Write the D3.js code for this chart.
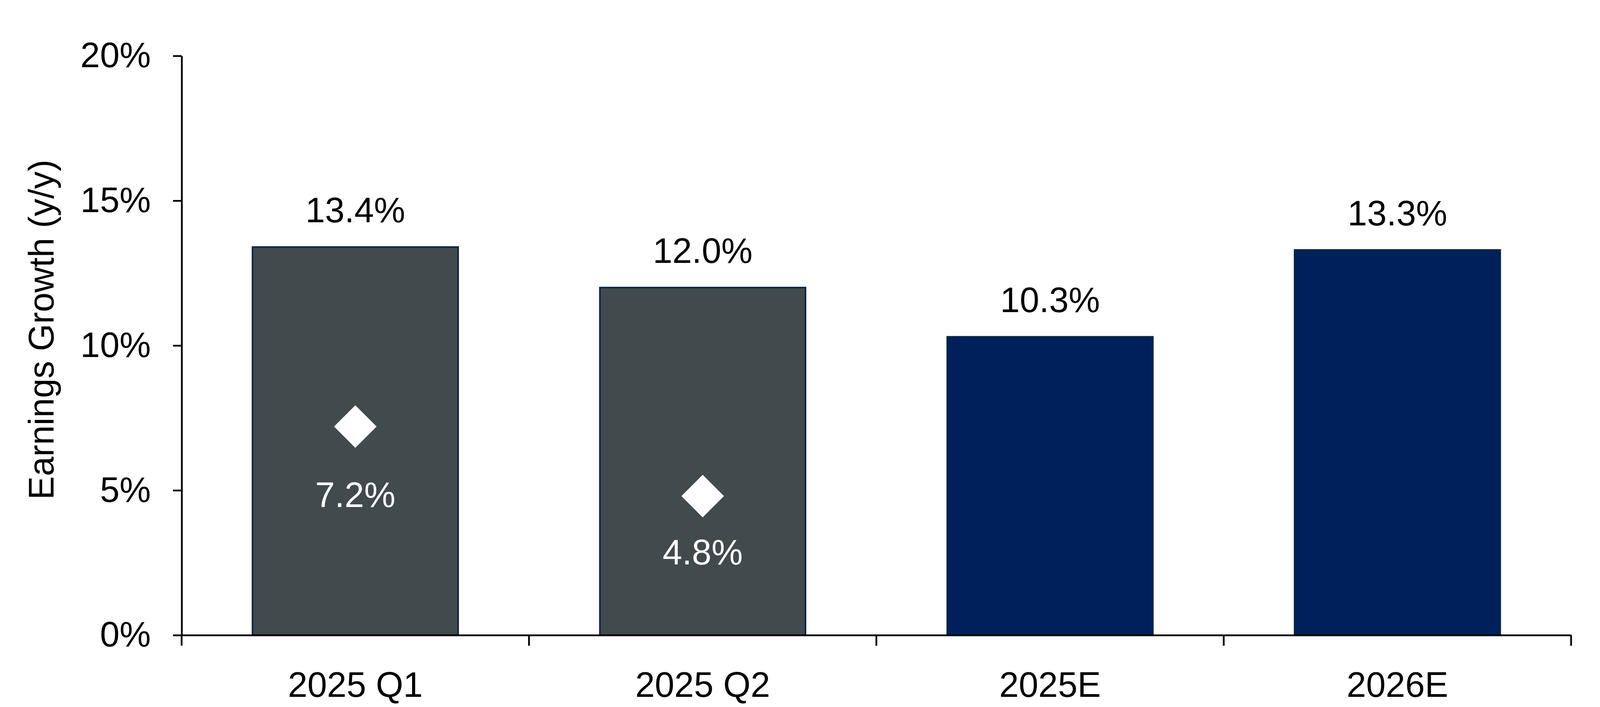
<!DOCTYPE html>
<html>
<head>
<meta charset="utf-8">
<script src="https://cdn.jsdelivr.net/npm/d3@7"></script>
<style>
  body { margin: 0; background: #fff; }
  text { font-family: "Liberation Sans", Arial, sans-serif; }
</style>
</head>
<body>
<div id="chart"></div>
<script>
// data
var categories = ["2025 Q1", "2025 Q2", "2025E", "2026E"];
var growth = [13.4, 12.0, 10.3, 13.3];
var isActual = [true, true, false, false];
var diamondCats = ["2025 Q1", "2025 Q2"];
var diamondVals = [7.2, 4.8];
var yTicks = [0, 5, 10, 15, 20];

// set the dimensions and margins of the graph
var W = 4100, H = 1810;
var margin = {top: 143, right: 78, bottom: 184, left: 465},
    width = W - margin.left - margin.right,
    height = H - margin.top - margin.bottom;

var grey = "#414a4c", navy = "#00205b", edge = "#0a2447";
var fontSize = 90;

var svg = d3.select("#chart")
  .append("svg")
    .attr("width", W)
    .attr("height", H)
  .append("g")
    .attr("transform", "translate(" + margin.left + "," + margin.top + ")");

var x = d3.scaleBand()
    .domain(categories)
    .range([0, width])
    .padding(0);
var barW = x.bandwidth() * 0.592;

var y = d3.scaleLinear()
    .domain([0, 20])
    .range([height, 0]);

// bars
svg.append("g")
  .selectAll("rect")
  .data(categories)
  .enter().append("rect")
    .attr("x", function(d) { return x(d) + (x.bandwidth() - barW) / 2; })
    .attr("y", function(d, i) { return y(growth[i]); })
    .attr("width", barW)
    .attr("height", function(d, i) { return y(0) - y(growth[i]); })
    .attr("fill", function(d, i) { return isActual[i] ? grey : navy; })
    .attr("stroke", edge)
    .attr("stroke-width", 4);

// value labels above bars
svg.append("g")
  .selectAll("text")
  .data(categories)
  .enter().append("text")
    .attr("x", function(d) { return x(d) + x.bandwidth() / 2; })
    .attr("y", function(d, i) { return y(growth[i]) - 63; })
    .attr("text-anchor", "middle")
    .attr("font-size", fontSize)
    .attr("fill", "#000")
    .text(function(d, i) { return growth[i].toFixed(1) + "%"; });

// diamonds + their labels
var diamond = d3.symbol().type(d3.symbolSquare).size(5940);
var labelDy = [206, 175];
svg.append("g")
  .selectAll("path")
  .data(diamondCats)
  .enter().append("path")
    .attr("d", diamond)
    .attr("fill", "#fff")
    .attr("transform", function(d, i) {
      return "translate(" + (x(d) + x.bandwidth() / 2) + "," + y(diamondVals[i]) + ")rotate(45)";
    });
svg.append("g")
  .selectAll("text")
  .data(diamondCats)
  .enter().append("text")
    .attr("x", function(d) { return x(d) + x.bandwidth() / 2; })
    .attr("y", function(d, i) { return y(diamondVals[i]) + labelDy[i]; })
    .attr("text-anchor", "middle")
    .attr("font-size", fontSize)
    .attr("fill", "#fff")
    .text(function(d, i) { return diamondVals[i].toFixed(1) + "%"; });

// y axis
var yAxis = svg.append("g")
    .call(d3.axisLeft(y)
      .tickValues(yTicks)
      .tickSize(22)
      .tickSizeOuter(0)
      .tickPadding(57)
      .tickFormat(function(d) { return d + "%"; }));
yAxis.selectAll("text")
    .attr("font-size", fontSize)
    .attr("font-family", "Liberation Sans, Arial, sans-serif")
    .attr("fill", "#000")
    .attr("dy", "0.32em");

// x axis: labels at centres, ticks at band boundaries
var xAxis = svg.append("g")
    .attr("transform", "translate(0," + height + ")")
    .call(d3.axisBottom(x).tickSize(0).tickSizeOuter(0));
xAxis.selectAll("text")
    .attr("font-size", fontSize)
    .attr("font-family", "Liberation Sans, Arial, sans-serif")
    .attr("fill", "#000")
    .attr("y", 158)
    .attr("dy", 0);
var bounds = categories.map(function(d) { return x(d); }).concat([width]);
xAxis.selectAll("line.bound")
  .data(bounds)
  .enter().append("line")
    .attr("class", "bound")
    .attr("x1", function(d) { return d; })
    .attr("x2", function(d) { return d; })
    .attr("y1", 0)
    .attr("y2", 27)
    .attr("stroke", "#000")
    .attr("stroke-width", 4.5);

svg.selectAll(".domain").attr("stroke", "#000").attr("stroke-width", 4.5);
yAxis.selectAll(".tick line").attr("stroke", "#000").attr("stroke-width", 4.5);

// y axis title
svg.append("text")
    .attr("transform", "translate(" + (137 - margin.left) + "," + (844 - margin.top) + ")rotate(-90)")
    .attr("text-anchor", "middle")
    .attr("font-size", fontSize)
    .attr("fill", "#000")
    .text("Earnings Growth (y/y)");
</script>
</body>
</html>
